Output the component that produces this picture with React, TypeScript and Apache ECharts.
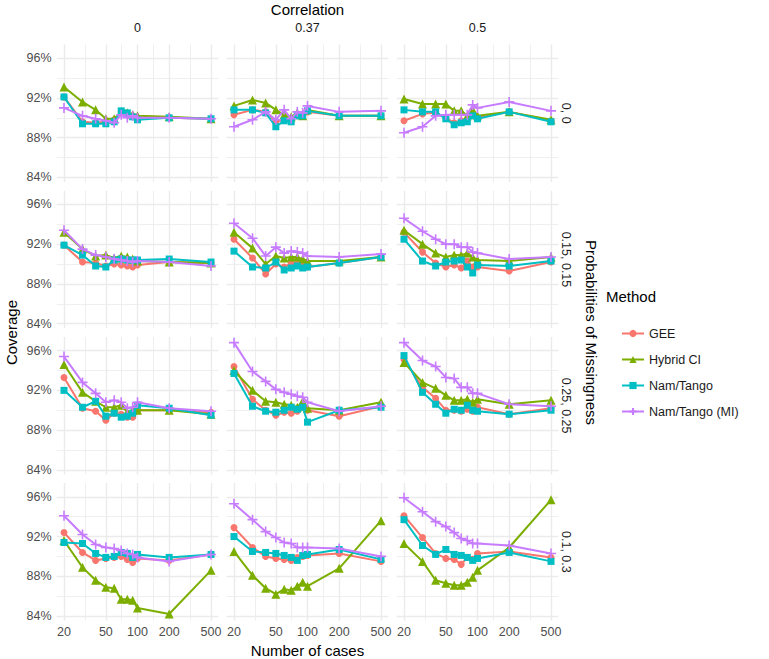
import React, { useEffect, useRef } from 'react';
import * as echarts from 'echarts';

// ---------- data ----------
const cases = [20, 30, 40, 50, 60, 70, 80, 90, 100, 200, 500];
const correlations = ['0', '0.37', '0.5'];
const missingness = ['0, 0', '0.15, 0.15', '0.25, 0.25', '0.1, 0.3'];
const methods = ['GEE', 'Hybrid CI', 'Nam/Tango', 'Nam/Tango (MI)'];
const methodColors = ['#F8766D', '#7CAE00', '#00BFC4', '#C77CFF'];

const xMajorTicks = [20, 50, 100, 200, 500];
const xMinorTicks = [31.62, 70.71, 141.42, 316.23];
const yMajorTicks = [84, 88, 92, 96];
const yMinorTicks = [86, 90, 94];
const xRange = [17.03, 587.1];
const yRange = [83.54, 97.38];

// each array: [corr 0, corr 0.37, corr 0.5]
// missingness 0, 0
const gee_00 = [
  [92.1, 89.6, 89.5, 89.6, 89.8, 90.6, 90.4, 90.2, 90.0, 90.0, 89.9],
  [90.3, 90.8, 90.6, 89.6, 89.8, 89.8, 90.2, 90.3, 90.6, 90.2, 90.2],
  [89.7, 90.4, 90.5, 90.0, 89.5, 89.7, 89.8, 90.4, 90.0, 90.6, 89.7],
];
const hybrid_00 = [
  [93.1, 91.6, 90.8, 89.9, 89.9, 90.6, 90.5, 90.3, 90.2, 90.1, 89.9],
  [91.2, 91.8, 91.5, 90.8, 90.3, 90.1, 90.5, 90.2, 90.8, 90.2, 90.2],
  [91.9, 91.4, 91.4, 91.4, 90.7, 90.7, 90.2, 90.8, 90.2, 90.6, 89.8],
];
const namtango_00 = [
  [92.1, 89.4, 89.4, 89.4, 89.6, 90.7, 90.5, 90.1, 89.8, 90.0, 89.9],
  [90.8, 90.8, 90.5, 89.1, 89.7, 89.6, 90.2, 90.2, 90.7, 90.2, 90.2],
  [90.8, 90.6, 90.6, 89.9, 89.3, 89.5, 89.6, 90.2, 89.9, 90.6, 89.6],
];
const namtangoMI_00 = [
  [91.0, 90.2, 89.9, 89.7, 89.5, 90.3, 90.0, 90.2, 90.0, 90.0, 89.9],
  [89.1, 89.8, 90.6, 89.8, 90.8, 89.9, 90.6, 90.5, 91.2, 90.6, 90.7],
  [88.5, 89.1, 90.2, 90.3, 90.3, 90.3, 90.3, 91.3, 91.0, 91.6, 90.7],
];

// missingness 0.15, 0.15
const gee_15 = [
  [91.9, 90.2, 90.1, 89.8, 90.0, 89.9, 89.8, 89.7, 89.9, 90.2, 90.1],
  [92.5, 90.6, 89.0, 90.0, 89.7, 90.1, 90.0, 89.8, 89.7, 90.1, 90.7],
  [93.2, 91.2, 90.1, 89.7, 89.9, 89.6, 90.3, 89.7, 89.7, 89.3, 90.2],
];
const hybrid_15 = [
  [93.2, 91.5, 90.8, 90.9, 90.6, 90.8, 90.7, 90.5, 90.3, 90.2, 90.1],
  [93.2, 91.6, 90.0, 90.8, 90.6, 90.7, 90.7, 90.5, 90.3, 90.3, 90.7],
  [93.4, 92.0, 91.1, 90.7, 90.9, 90.9, 91.1, 90.7, 90.4, 90.3, 90.7],
];
const namtango_15 = [
  [91.9, 90.9, 89.8, 89.7, 90.4, 90.5, 90.4, 90.4, 90.4, 90.5, 90.2],
  [91.3, 89.7, 89.6, 90.2, 89.4, 89.6, 89.8, 89.6, 89.7, 90.1, 90.7],
  [92.5, 90.3, 89.8, 90.2, 90.3, 90.4, 89.7, 89.1, 89.9, 89.8, 90.3],
];
const namtangoMI_15 = [
  [93.4, 91.5, 90.9, 90.7, 90.5, 90.4, 90.3, 90.2, 90.3, 90.2, 89.8],
  [94.1, 92.6, 90.8, 91.7, 91.1, 91.3, 91.2, 91.1, 90.8, 90.7, 91.0],
  [94.6, 93.3, 92.5, 92.0, 92.0, 91.7, 91.7, 91.2, 91.1, 90.5, 90.7],
];

// missingness 0.25, 0.25
const gee_25 = [
  [93.3, 90.2, 89.9, 89.0, 89.7, 89.6, 89.3, 89.3, 90.0, 90.0, 89.8],
  [94.4, 91.1, 90.0, 89.5, 89.8, 89.7, 89.9, 90.3, 90.0, 89.4, 90.4],
  [95.1, 92.3, 91.2, 90.0, 90.0, 89.9, 90.1, 89.9, 90.3, 89.6, 90.2],
];
const hybrid_25 = [
  [94.6, 91.8, 90.9, 90.3, 90.3, 90.5, 89.8, 90.0, 90.0, 90.0, 89.6],
  [94.0, 92.0, 90.9, 90.8, 90.6, 90.5, 90.3, 90.9, 90.2, 90.0, 90.8],
  [94.8, 92.8, 92.2, 91.5, 91.0, 91.0, 91.1, 90.8, 91.1, 90.6, 91.0],
];
const namtango_25 = [
  [92.0, 90.3, 90.9, 89.4, 89.7, 89.3, 89.4, 89.7, 90.5, 90.2, 89.5],
  [93.7, 90.4, 89.9, 89.8, 90.0, 90.3, 90.1, 90.3, 88.8, 90.0, 90.3],
  [95.5, 91.8, 90.6, 89.7, 90.1, 90.0, 90.5, 90.0, 89.9, 89.6, 90.0],
];
const namtangoMI_25 = [
  [95.4, 92.8, 91.7, 90.8, 91.0, 90.8, 90.2, 90.3, 90.8, 90.2, 89.9],
  [96.8, 93.9, 92.9, 92.1, 91.8, 91.6, 91.4, 91.3, 90.8, 89.9, 90.4],
  [96.8, 95.0, 94.4, 93.3, 93.2, 92.3, 92.3, 91.7, 91.7, 90.6, 90.4],
];

// missingness 0.1, 0.3
const gee_13 = [
  [92.4, 90.4, 89.6, 89.8, 89.9, 90.0, 89.7, 89.4, 89.8, 89.6, 90.2],
  [92.9, 90.9, 90.0, 89.8, 89.7, 89.6, 89.9, 90.0, 90.1, 90.3, 89.5],
  [94.1, 91.9, 90.3, 89.8, 89.7, 89.2, 89.9, 89.7, 90.3, 90.5, 89.9],
];
const hybrid_13 = [
  [91.6, 88.9, 87.6, 86.9, 86.8, 85.7, 85.7, 85.6, 84.8, 84.2, 88.6],
  [90.5, 88.1, 86.8, 86.2, 86.7, 86.6, 87.0, 87.4, 87.0, 88.8, 93.6],
  [91.3, 89.5, 87.6, 87.3, 87.1, 87.1, 87.4, 87.9, 88.6, 90.9, 95.7],
];
const namtango_13 = [
  [91.4, 91.3, 90.3, 89.9, 90.0, 90.4, 90.3, 89.9, 90.2, 89.9, 90.2],
  [92.0, 90.5, 90.4, 90.3, 90.1, 89.9, 89.6, 90.1, 90.2, 90.7, 89.7],
  [93.7, 91.1, 90.2, 90.7, 90.2, 90.1, 89.9, 89.6, 89.8, 90.4, 89.5],
];
const namtangoMI_13 = [
  [94.1, 92.2, 91.2, 90.9, 90.8, 90.6, 90.3, 90.2, 89.9, 89.5, 90.2],
  [95.3, 93.7, 92.5, 91.9, 91.4, 91.3, 90.9, 90.9, 90.9, 90.8, 90.0],
  [95.9, 94.5, 93.5, 93.0, 92.4, 91.8, 91.6, 91.3, 91.3, 91.1, 90.3],
];

// rows (missingness) x methods
const panelData = [
  [gee_00, hybrid_00, namtango_00, namtangoMI_00],
  [gee_15, hybrid_15, namtango_15, namtangoMI_15],
  [gee_25, hybrid_25, namtango_25, namtangoMI_25],
  [gee_13, hybrid_13, namtango_13, namtangoMI_13],
];

// ---------- layout / style ----------
const FONT = 'Liberation Sans, Arial, Helvetica, sans-serif';
const colLeft = [56.65, 226.65, 396.65];
const panelW = 161.7;
const rowTop = [44.5, 190.7, 336.9, 483.1];
const panelH = 137.5;
const plusPath = 'path://M5,0L5,10M0,5L10,5';
const symbols = ['circle', 'triangle', 'rect', plusPath];
const symbolSizes = [7, 9, 7, 10];

function buildOption() {
  const grid: any[] = [];
  const xAxis: any[] = [];
  const yAxis: any[] = [];
  const series: any[] = [];
  const graphic: any[] = [];

  for (let r = 0; r < missingness.length; r++) {
    for (let c = 0; c < correlations.length; c++) {
      const gi = r * correlations.length + c;
      grid.push({ left: colLeft[c], top: rowTop[r], width: panelW, height: panelH });
      xAxis.push({
        type: 'log',
        logBase: 10,
        gridIndex: gi,
        min: xRange[0],
        max: xRange[1],
        axisLine: { show: false },
        axisTick: { show: false },
        splitLine: { show: false },
        minorTick: { show: false },
        minorSplitLine: { show: false },
        axisLabel: {
          show: r === missingness.length - 1,
          customValues: xMajorTicks,
          formatter: (v: number) => String(Math.round(v)),
          color: '#4D4D4D',
          fontSize: 12.5,
          fontFamily: FONT,
          margin: 5,
        },
      });
      yAxis.push({
        type: 'value',
        gridIndex: gi,
        min: yRange[0],
        max: yRange[1],
        axisLine: { show: false },
        axisTick: { show: false },
        splitLine: { show: false },
        axisLabel: {
          show: c === 0,
          customValues: yMajorTicks,
          formatter: '{value}%',
          color: '#4D4D4D',
          fontSize: 12.5,
          fontFamily: FONT,
          margin: 5,
        },
      });

      // grid lines
      const gl: any[] = [];
      xMinorTicks.forEach((t) =>
        gl.push({ coords: [[t, yRange[0]], [t, yRange[1]]], lineStyle: { width: 0.8 } })
      );
      yMinorTicks.forEach((t) =>
        gl.push({ coords: [[xRange[0], t], [xRange[1], t]], lineStyle: { width: 0.8 } })
      );
      xMajorTicks.forEach((t) =>
        gl.push({ coords: [[t, yRange[0]], [t, yRange[1]]], lineStyle: { width: 1.4 } })
      );
      yMajorTicks.forEach((t) =>
        gl.push({ coords: [[xRange[0], t], [xRange[1], t]], lineStyle: { width: 1.4 } })
      );
      series.push({
        name: 'gridlines',
        type: 'lines',
        coordinateSystem: 'cartesian2d',
        xAxisIndex: gi,
        yAxisIndex: gi,
        silent: true,
        z: 0,
        polyline: false,
        lineStyle: { color: '#EBEBEB', width: 1, opacity: 1, curveness: 0 },
        data: gl,
      });

      for (let m = 0; m < methods.length; m++) {
        const vals = panelData[r][m][c];
        series.push({
          name: methods[m],
          type: 'line',
          xAxisIndex: gi,
          yAxisIndex: gi,
          z: 2 + m,
          color: methodColors[m],
          symbol: symbols[m],
          symbolSize: symbolSizes[m],
          showSymbol: true,
          lineStyle: { color: methodColors[m], width: 2 },
          itemStyle:
            m === 3
              ? { color: methodColors[m], borderColor: methodColors[m], borderWidth: 1.6 }
              : { color: methodColors[m], borderWidth: 0 },
          emphasis: { disabled: true },
          data: cases.map((x, i) => [x, vals[i]]),
        });
      }
    }
  }

  // column strip labels
  correlations.forEach((lab, c) => {
    graphic.push({
      type: 'text',
      x: colLeft[c] + panelW / 2,
      y: 28,
      style: { text: lab, fill: '#1A1A1A', font: `12.5px ${FONT}`, textAlign: 'center', textVerticalAlign: 'middle' },
    });
  });
  // row strip labels
  missingness.forEach((lab, r) => {
    graphic.push({
      type: 'text',
      x: 566,
      y: rowTop[r] + panelH / 2,
      rotation: -Math.PI / 2,
      style: { text: lab, fill: '#1A1A1A', font: `12.5px ${FONT}`, textAlign: 'center', textVerticalAlign: 'middle' },
    });
  });
  const centerX = (colLeft[0] + colLeft[2] + panelW) / 2;
  const centerY = (rowTop[0] + rowTop[3] + panelH) / 2;
  graphic.push(
    {
      type: 'text',
      x: centerX,
      y: 9,
      style: { text: 'Correlation', fill: '#000', font: `15px ${FONT}`, textAlign: 'center', textVerticalAlign: 'middle' },
    },
    {
      type: 'text',
      x: 591,
      y: centerY,
      rotation: -Math.PI / 2,
      style: { text: 'Probabilities of Missingness', fill: '#000', font: `15px ${FONT}`, textAlign: 'center', textVerticalAlign: 'middle' },
    },
    {
      type: 'text',
      x: 11,
      y: centerY,
      rotation: Math.PI / 2,
      style: { text: 'Coverage', fill: '#000', font: `15px ${FONT}`, textAlign: 'center', textVerticalAlign: 'middle' },
    },
    {
      type: 'text',
      x: centerX,
      y: 650,
      style: { text: 'Number of cases', fill: '#000', font: `15px ${FONT}`, textAlign: 'center', textVerticalAlign: 'middle' },
    },
    {
      type: 'text',
      x: 606,
      y: 296,
      style: { text: 'Method', fill: '#000', font: `15px ${FONT}`, textAlign: 'left', textVerticalAlign: 'middle' },
    }
  );

  return {
    animation: false,
    backgroundColor: '#ffffff',
    grid,
    xAxis,
    yAxis,
    series,
    graphic,
    legend: {
      data: methods,
      orient: 'vertical',
      left: 616,
      top: 322,
      itemWidth: 22,
      itemHeight: 9,
      itemGap: 13,
      selectedMode: false,
      textStyle: { color: '#1A1A1A', fontSize: 12.5, fontFamily: FONT },
    },
  };
}

export default function App() {
  const ref = useRef<HTMLDivElement>(null);
  useEffect(() => {
    if (!ref.current) return;
    const chart = echarts.init(ref.current, undefined, { renderer: 'svg' });
    chart.setOption(buildOption() as any);
    return () => chart.dispose();
  }, []);
  return (
    <div
      ref={ref}
      style={{ position: 'absolute', left: 0, top: 0, width: 769, height: 659, background: '#fff' }}
    />
  );
}
